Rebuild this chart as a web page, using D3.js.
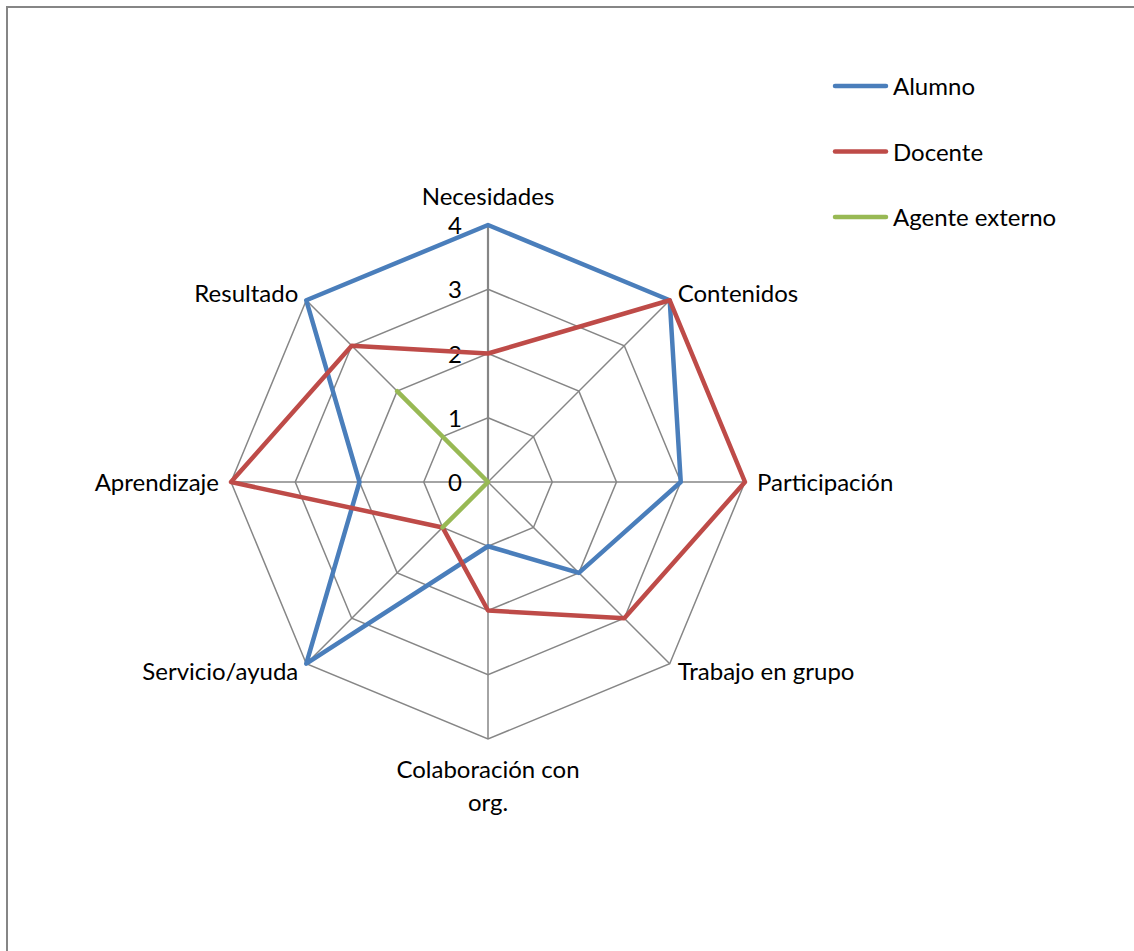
<!DOCTYPE html>
<html>
<head>
<meta charset="utf-8">
<script src="https://cdn.jsdelivr.net/npm/d3@7/dist/d3.min.js"></script>
<style>
  body { margin: 0; background: #fff; }
  text { font-family: Lato, "Open Sans", sans-serif; font-size: 24px; fill: #000; }
</style>
</head>
<body>
<svg id="chart"></svg>
<script>
// axis names, clockwise from the top
var categories = ['Necesidades', 'Contenidos', 'Participación', 'Trabajo en grupo',
                  'Colaboración con org.', 'Servicio/ayuda', 'Aprendizaje', 'Resultado'];
var seriesNames = ['Alumno', 'Docente', 'Agente externo'];
var alumno  = [4, 4, 3, 2, 1, 4, 2, 4];
var docente = [2, 4, 4, 3, 2, 1, 4, 3];
var agente  = [0, 0, 0, 0, 0, 1, 0, 2];
var colors = ['#4a7ebb', '#be4b48', '#98b954'];
var ticks = [0, 1, 2, 3, 4];

var width = 1134, height = 951;
var cx = 488, cy = 482, R = 257;

var svg = d3.select('#chart').attr('width', width).attr('height', height);

// outer frame (runs off the bottom/right)
svg.append('rect')
    .attr('x', 7).attr('y', 7)
    .attr('width', width + 10).attr('height', height + 10)
    .attr('fill', 'none').attr('stroke', '#868686').attr('stroke-width', 2);

var r = d3.scaleLinear().domain([0, 4]).range([0, R]);
var angle = d3.scalePoint().domain(d3.range(categories.length))
    .range([0, 2 * Math.PI * (categories.length - 1) / categories.length]);

function pt(i, v) {
    var a = angle(i);
    return [cx + r(v) * Math.sin(a), cy - r(v) * Math.cos(a)];
}

var g = svg.append('g');

// rings
ticks.slice(1).forEach(function(t) {
    g.append('path')
        .attr('d', d3.line()(categories.map(function(c, i) { return pt(i, t); })) + 'Z')
        .attr('fill', 'none').attr('stroke', '#868686').attr('stroke-width', 1.5);
});

// spokes
categories.forEach(function(c, i) {
    var p = pt(i, 4);
    g.append('line')
        .attr('x1', cx).attr('y1', cy).attr('x2', p[0]).attr('y2', p[1])
        .attr('stroke', '#868686').attr('stroke-width', i === 0 ? 2.2 : 1.5);
});

// tick labels along the vertical axis
g.selectAll('.tick').data(ticks).enter().append('text')
    .attr('x', cx - 26)
    .attr('y', function(d) { return cy - r(d) + 9; })
    .attr('text-anchor', 'end')
    .text(function(d) { return d; });

// category labels
categories.forEach(function(c, i) {
    var a = angle(i), s = Math.sin(a), co = Math.cos(a);
    var p = pt(i, 4);
    var t = g.append('text');
    if (Math.abs(s) < 0.1) {
        t.attr('text-anchor', 'middle').attr('x', p[0]);
        if (co > 0) {
            t.attr('y', p[1] - 20).text(c);
        } else {
            var words = ['Colaboración con', 'org.'];
            words.forEach(function(w, k) {
                t.append('tspan').attr('x', p[0]).attr('y', p[1] + 39 + k * 33).text(w);
            });
        }
    } else {
        var dx = Math.abs(co) < 0.1 ? 12 : 8;
        t.attr('text-anchor', s > 0 ? 'start' : 'end')
            .attr('x', p[0] + (s > 0 ? dx : -dx))
            .attr('y', p[1] - co * 10 + 9)
            .text(c);
    }
});

// series
var data = [alumno, docente, agente];
var line = d3.line().x(function(d) { return d[0]; }).y(function(d) { return d[1]; });
data.forEach(function(vals, k) {
    g.append('path')
        .attr('d', line(vals.map(function(v, i) { return pt(i, v); })) + 'Z')
        .attr('fill', 'none')
        .attr('stroke', colors[k])
        .attr('stroke-width', 4.5)
        .attr('stroke-linejoin', 'round');
});

// legend
var leg = svg.append('g');
seriesNames.forEach(function(n, k) {
    var y = 86 + k * 65.5;
    leg.append('line')
        .attr('x1', 835).attr('x2', 886).attr('y1', y).attr('y2', y)
        .attr('stroke', colors[k]).attr('stroke-width', 4.5).attr('stroke-linecap', 'round');
    leg.append('text').attr('x', 893).attr('y', y + 9).text(n);
});
</script>
</body>
</html>
